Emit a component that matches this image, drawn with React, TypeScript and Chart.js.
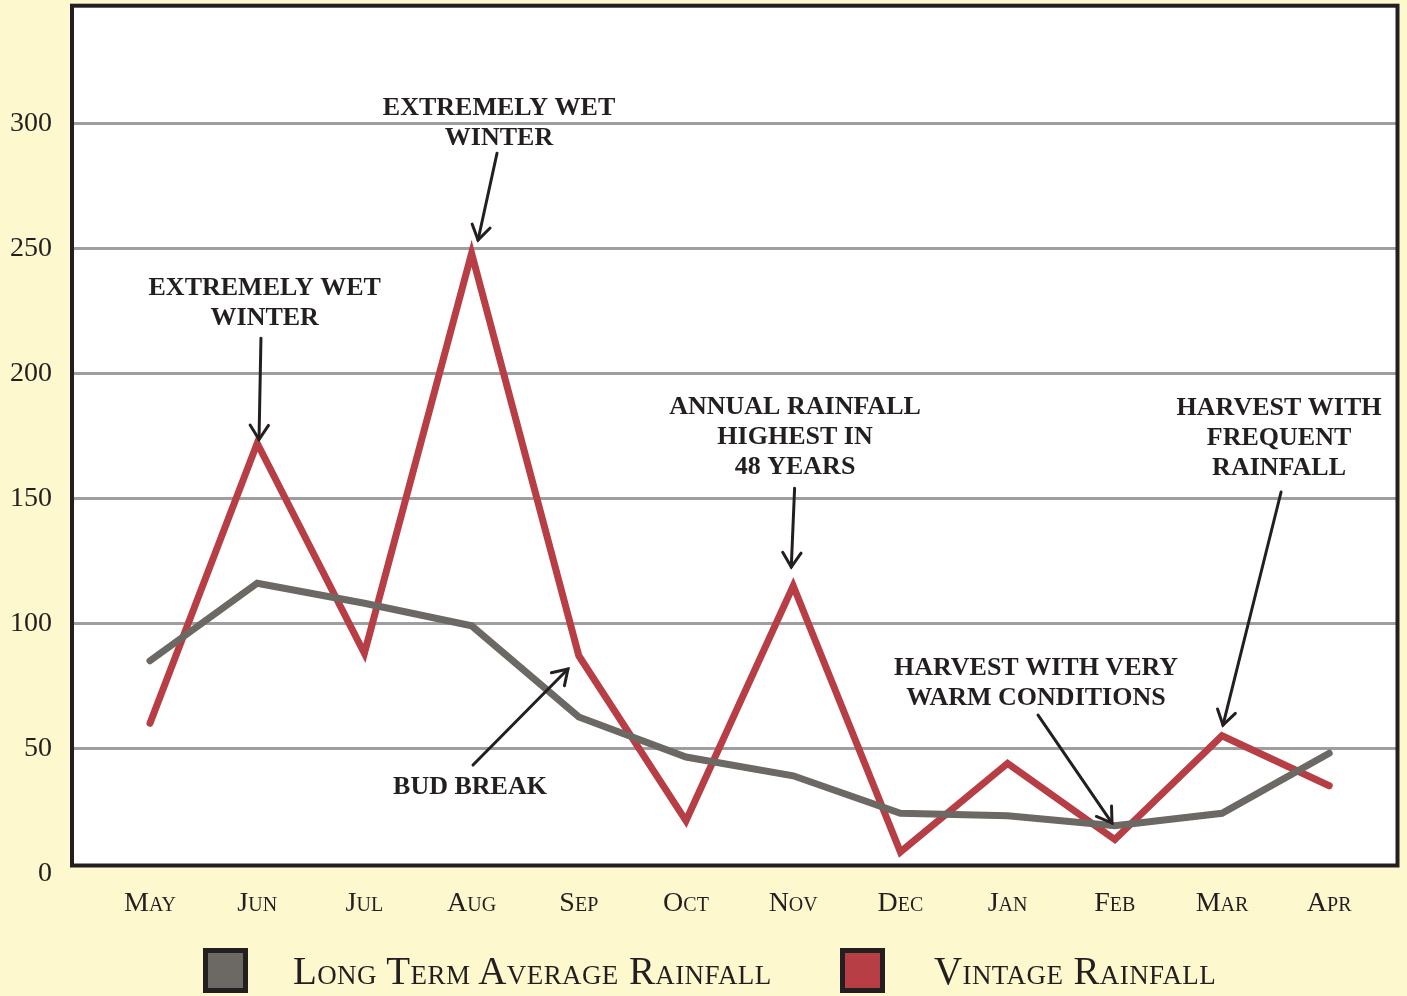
import React, { useEffect, useRef } from 'react';
import { Chart, registerables } from 'chart.js';

Chart.register(...registerables);

// ---- data ----
const months = ['May', 'Jun', 'Jul', 'Aug', 'Sep', 'Oct', 'Nov', 'Dec', 'Jan', 'Feb', 'Mar', 'Apr'];
const longTermAverage = [85, 116, 108, 99, 62.5, 46.5, 39, 24, 23, 19, 24, 48];
const vintageRainfall = [60, 172, 88, 248, 87, 21, 115, 8.5, 44, 13.5, 55, 35];
const yTickValues = [0, 50, 100, 150, 200, 250, 300];
const seriesNames = ['Long Term Average Rainfall', 'Vintage Rainfall'];

// annotations in data space (x = month index, y = rainfall)
const annotationTexts = [
  ['EXTREMELY WET', 'WINTER'],
  ['EXTREMELY WET', 'WINTER'],
  ['ANNUAL RAINFALL', 'HIGHEST IN', '48 YEARS'],
  ['HARVEST WITH VERY', 'WARM CONDITIONS'],
  ['HARVEST WITH', 'FREQUENT', 'RAINFALL'],
  ['BUD BREAK'],
];
const annotationAnchors = [
  [1.07, 234], [3.256, 306], [6.017, 186.5], [8.265, 82], [10.532, 186], [2.985, 34.5],
];
const arrowFrom = [
  [1.035, 214], [3.237, 288], [6.013, 154], [8.284, 63.3], [10.551, 152.5], [3.013, 43.3],
];
const arrowTo = [
  [1.017, 173.5], [3.06, 253.3], [5.982, 122.5], [8.974, 20.1], [10.009, 59.3], [3.899, 81.7],
];

// ---- style ----
const INK = '#231f20';
const GREY = '#6c6964';
const RED = '#b83e46';
const CREAM = '#fdf8ce';
const GRID = '#9d9ea2';
const SERIF = "'Liberation Serif', 'Times New Roman', serif";

const framePlugin = {
  id: 'frame',
  beforeDraw(chart: any) {
    const { ctx, chartArea } = chart;
    const { left, top, right, bottom } = chartArea;
    ctx.save();
    ctx.fillStyle = '#ffffff';
    ctx.fillRect(left, top, right - left, bottom - top);
    ctx.restore();
  },
  afterDraw(chart: any) {
    const { ctx, chartArea } = chart;
    const { left, top, right, bottom } = chartArea;
    ctx.save();
    ctx.strokeStyle = INK;
    ctx.lineWidth = 4;
    ctx.strokeRect(left, top, right - left, bottom - top);
    ctx.restore();
  },
};

const annotationPlugin = {
  id: 'notes',
  afterDatasetsDraw(chart: any) {
    const { ctx } = chart;
    const xs = chart.scales.x;
    const ys = chart.scales.y;
    ctx.save();
    ctx.fillStyle = INK;
    ctx.strokeStyle = INK;
    ctx.font = `bold 26px ${SERIF}`;
    ctx.textAlign = 'center';
    ctx.textBaseline = 'middle';
    annotationTexts.forEach((lines, i) => {
      const ax = xs.getPixelForValue(annotationAnchors[i][0]);
      const ay = ys.getPixelForValue(annotationAnchors[i][1]);
      lines.forEach((ln, j) => ctx.fillText(ln, ax, ay + j * 30));
      const x1 = xs.getPixelForValue(arrowFrom[i][0]);
      const y1 = ys.getPixelForValue(arrowFrom[i][1]);
      const x2 = xs.getPixelForValue(arrowTo[i][0]);
      const y2 = ys.getPixelForValue(arrowTo[i][1]);
      ctx.lineWidth = 3;
      ctx.lineCap = 'round';
      ctx.lineJoin = 'miter';
      ctx.beginPath();
      ctx.moveTo(x1, y1);
      ctx.lineTo(x2, y2);
      ctx.stroke();
      const ang = Math.atan2(y2 - y1, x2 - x1);
      const hl = 17;
      const spread = Math.PI / 5.5;
      ctx.beginPath();
      ctx.moveTo(x2 - hl * Math.cos(ang - spread), y2 - hl * Math.sin(ang - spread));
      ctx.lineTo(x2, y2);
      ctx.lineTo(x2 - hl * Math.cos(ang + spread), y2 - hl * Math.sin(ang + spread));
      ctx.stroke();
    });
    ctx.restore();
  },
};

export default function App() {
  const canvasRef = useRef<HTMLCanvasElement | null>(null);

  useEffect(() => {
    const canvas = canvasRef.current;
    if (!canvas) return;
    const chart = new Chart(canvas, {
      type: 'line',
      data: {
        datasets: [
          {
            label: seriesNames[0],
            data: longTermAverage.map((v, i) => ({ x: i, y: v })),
            borderColor: GREY,
            backgroundColor: GREY,
            borderWidth: 7,
            pointRadius: 0,
            tension: 0,
            borderCapStyle: 'round',
            borderJoinStyle: 'miter',
          },
          {
            label: seriesNames[1],
            data: vintageRainfall.map((v, i) => ({ x: i, y: v })),
            borderColor: RED,
            backgroundColor: RED,
            borderWidth: 7,
            pointRadius: 0,
            tension: 0,
            borderCapStyle: 'round',
            borderJoinStyle: 'miter',
          },
        ],
      },
      options: {
        responsive: false,
        animation: false,
        devicePixelRatio: 1,
        layout: { padding: { top: 5.7, right: 9.5, left: 0, bottom: 0 } },
        plugins: {
          legend: { display: false },
          tooltip: { enabled: false },
        },
        scales: {
          x: {
            type: 'linear',
            min: -0.7276,
            max: 11.637,
            grid: { display: false, drawTicks: false },
            border: { display: false },
            afterBuildTicks: (s: any) => {
              s.ticks = months.map((_, i) => ({ value: i }));
            },
            afterFit: (s: any) => {
              s.height = 996 - 865.5;
              s.paddingLeft = 0;
              s.paddingRight = 0;
            },
            ticks: {
              autoSkip: false,
              maxRotation: 0,
              padding: 21,
              color: INK,
              font: { family: SERIF, size: 28, weight: 'small-caps' as any },
              callback: (v: any) => months[Math.round(Number(v))] ?? '',
            },
          },
          y: {
            type: 'linear',
            min: 3.12,
            max: 347,
            afterBuildTicks: (s: any) => {
              s.ticks = yTickValues.map((v) => ({ value: v }));
            },
            afterFit: (s: any) => {
              s.width = 72;
              s.paddingTop = 0;
              s.paddingBottom = 0;
            },
            grid: {
              drawTicks: false,
              lineWidth: 3,
              color: (c: any) => (c.tick && c.tick.value === 0 ? 'rgba(0,0,0,0)' : GRID),
            },
            border: { display: false },
            ticks: {
              padding: 20,
              color: INK,
              font: { family: SERIF, size: 28 },
            },
          },
        },
      },
      plugins: [framePlugin, annotationPlugin],
    });
    return () => chart.destroy();
  }, []);

  const legendText: React.CSSProperties = {
    position: 'absolute',
    top: 948,
    height: 45,
    display: 'flex',
    alignItems: 'center',
    fontFamily: SERIF,
    fontVariant: 'small-caps',
    fontSize: 39,
    letterSpacing: '0.4px',
    lineHeight: 1,
    color: INK,
    whiteSpace: 'nowrap',
  };
  const box = (left: number, color: string): React.CSSProperties => ({
    position: 'absolute',
    left,
    top: 948,
    width: 45,
    height: 45,
    boxSizing: 'border-box',
    border: `5px solid ${INK}`,
    background: color,
  });

  return (
    <div
      style={{
        position: 'absolute',
        left: 0,
        top: 0,
        width: 1407,
        height: 996,
        background: CREAM,
        overflow: 'hidden',
      }}
    >
      <canvas
        ref={canvasRef}
        width={1407}
        height={996}
        style={{ position: 'absolute', left: 0, top: 0, width: 1407, height: 996 }}
      />
      <div style={box(203, GREY)} />
      <div style={{ ...legendText, left: 293 }}>{seriesNames[0]}</div>
      <div style={box(840, RED)} />
      <div style={{ ...legendText, left: 934 }}>{seriesNames[1]}</div>
    </div>
  );
}
